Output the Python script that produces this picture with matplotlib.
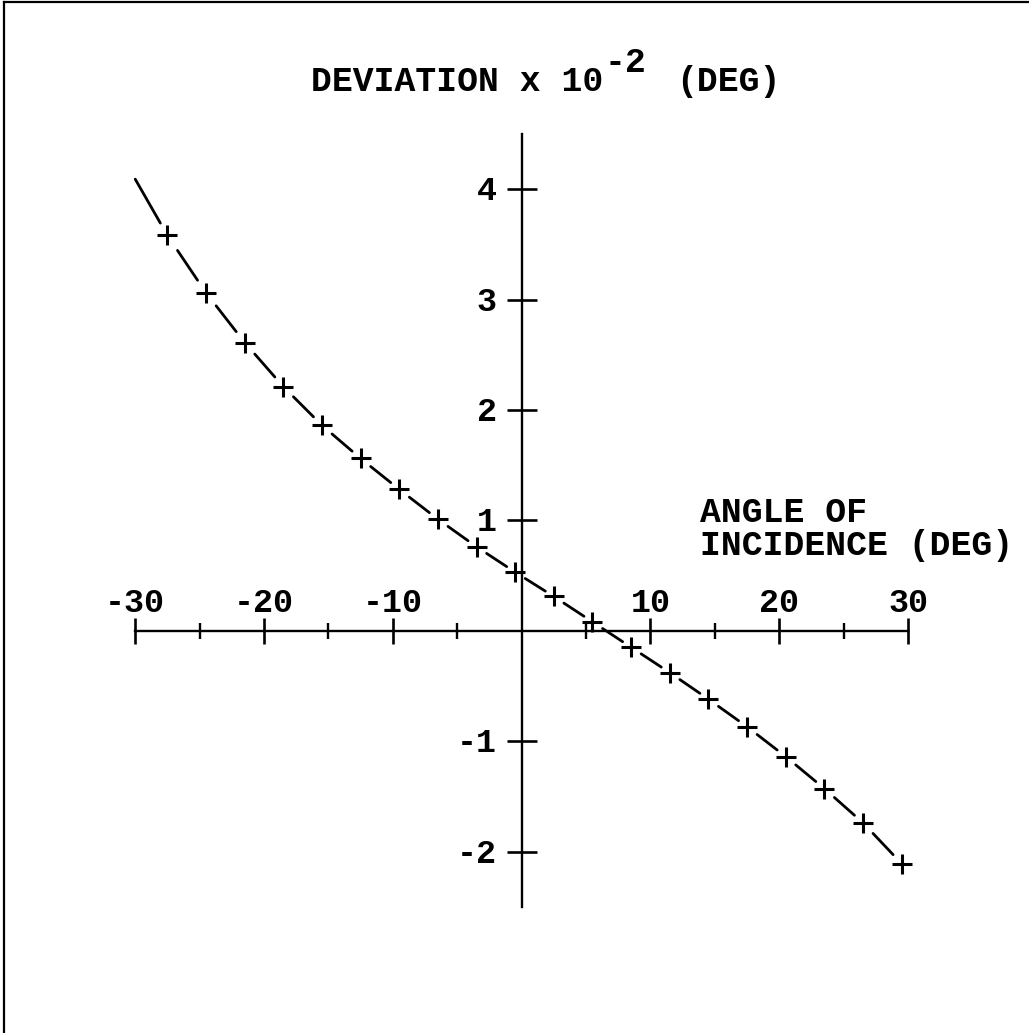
"""Deviation vs angle of incidence, drawn in a pen-plotter style."""

import matplotlib.pyplot as plt
from matplotlib.lines import Line2D

FONT = ["Liberation Mono", "DejaVu Sans Mono"]
W, H = 1029, 1033

# measured points (deg, deviation x 1e-2 deg)
angle = [-27.5, -24.5, -21.5, -18.5, -15.5, -12.5, -9.5, -6.5, -3.5, -0.5,
         2.5, 5.5, 8.5, 11.5, 14.5, 17.5, 20.5, 23.5, 26.5, 29.5]
deviation = [3.58, 3.06, 2.61, 2.21, 1.86, 1.56, 1.28, 1.01, 0.76, 0.53,
             0.31, 0.08, -0.15, -0.38, -0.62, -0.87, -1.14, -1.43, -1.74, -2.11]
curve_start = (-30.0, 4.09)

x_major = [-30, -20, -10, 10, 20, 30]
x_minor = [-25, -15, -5, 5, 15, 25]
y_major = [-2, -1, 1, 2, 3, 4]
x_span = (-30, 30)
y_span = (-2.5, 4.5)


def fig_text(fig, px, py, s, **kw):
    """Place text at pixel position (px, py) measured from the top-left."""
    kw.setdefault("family", FONT)
    kw.setdefault("fontsize", 25)
    kw.setdefault("fontweight", "bold")
    return fig.text(px / W, 1 - py / H, s, **kw)


fig = plt.figure(figsize=(W / 100, H / 100), dpi=100)
ax = fig.add_axes([0, 0, 1, 1])
ax.set_xlim(-40.50, 39.39)
ax.set_ylim(-3.644, 5.713)
ax.patch.set_visible(False)

# axes cross at the origin
for side in ("top", "right"):
    ax.spines[side].set_visible(False)
ax.spines["bottom"].set_position(("data", 0))
ax.spines["left"].set_position(("data", 0))
ax.spines["bottom"].set_bounds(*x_span)
ax.spines["left"].set_bounds(*y_span)
for side in ("bottom", "left"):
    ax.spines[side].set_linewidth(1.7)

ax.set_xticks(x_major)
ax.set_xticks(x_minor, minor=True)
ax.set_yticks(y_major)
ax.tick_params(axis="x", which="major", direction="inout", length=19, width=1.9,
               labelbottom=False)
ax.tick_params(axis="x", which="minor", direction="inout", length=11, width=1.7)
ax.tick_params(axis="y", which="major", direction="inout", length=21, width=1.9,
               labelleft=False)

for t in x_major:
    ax.annotate(f"{t}", xy=(t, 0), xytext=(0, 13.5), textcoords="offset points",
                ha="center", va="baseline", family=FONT, fontsize=24,
                fontweight="bold")
for t in y_major:
    ax.annotate(f"{t}", xy=(0, t), xytext=(-18, -8), textcoords="offset points",
                ha="right", va="baseline", family=FONT, fontsize=24,
                fontweight="bold")

# curve: one dash between neighbouring points, gaps around the markers
xs = [curve_start[0]] + angle
ys = [curve_start[1]] + deviation
for i in range(len(xs) - 1):
    a = 0.0 if i == 0 else 0.26
    b = 0.78
    dx, dy = xs[i + 1] - xs[i], ys[i + 1] - ys[i]
    ax.plot([xs[i] + a * dx, xs[i] + b * dx], [ys[i] + a * dy, ys[i] + b * dy],
            color="black", lw=2.0, solid_capstyle="round")
ax.plot(angle, deviation, linestyle="none", marker="+", ms=14, mew=2.2,
        color="black")

# titles
fig_text(fig, 311, 91, "DEVIATION x 10", ha="left", va="baseline")
fig_text(fig, 604, 72, "-2", ha="left", va="baseline")
fig_text(fig, 676, 91, "(DEG)", ha="left", va="baseline")
fig_text(fig, 700, 522, "ANGLE OF", ha="left", va="baseline")
fig_text(fig, 700, 555, "INCIDENCE (DEG)", ha="left", va="baseline")

# frame edges
fig.add_artist(Line2D([4 / W, 4 / W], [0, 1 - 2 / H], transform=fig.transFigure,
                      color="black", lw=1.6))
fig.add_artist(Line2D([4 / W, 1], [1 - 2 / H, 1 - 2 / H], transform=fig.transFigure,
                      color="black", lw=1.6))

fig.savefig("out.png", dpi=100, facecolor="white")
